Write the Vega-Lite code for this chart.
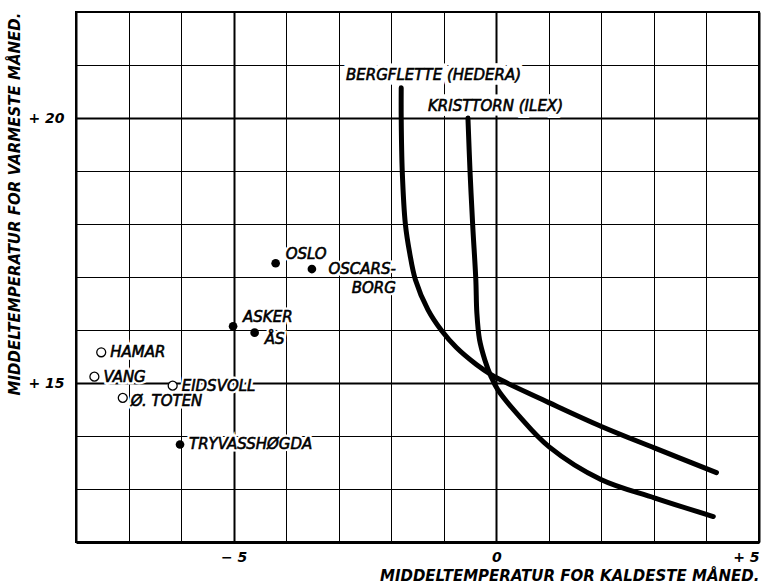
{
  "$schema": "https://vega.github.io/schema/vega-lite/v6.json",
  "width": 683,
  "height": 530,
  "autosize": {"type": "none"},
  "padding": {"left": 76, "top": 12, "right": 4, "bottom": 44},
  "background": "white",
  "config": {
    "view": {"stroke": "black", "strokeWidth": 2},
    "axis": {
      "labelFont": "DejaVu Sans", "labelFontStyle": "italic", "labelFontWeight": "bold", "labelFontSize": 14, "labelColor": "black",
      "titleFont": "DejaVu Sans", "titleFontStyle": "italic", "titleFontWeight": "bold", "titleFontSize": 15, "titleColor": "black",
      "gridColor": "black", "gridOpacity": 1, "domainColor": "black", "ticks": false
    },
    "text": {"font": "DejaVu Sans", "fontWeight": "normal", "fontStyle": "italic", "fontSize": 15}
  },
  "datasets": {
    "curves": [
      {"curve": "BERGFLETTE", "i": 1, "x": -1.81, "y": 20.57},
      {"curve": "BERGFLETTE", "i": 2, "x": -1.81, "y": 20.0},
      {"curve": "BERGFLETTE", "i": 3, "x": -1.79, "y": 18.99},
      {"curve": "BERGFLETTE", "i": 4, "x": -1.73, "y": 17.99},
      {"curve": "BERGFLETTE", "i": 5, "x": -1.65, "y": 17.46},
      {"curve": "BERGFLETTE", "i": 6, "x": -1.54, "y": 16.95},
      {"curve": "BERGFLETTE", "i": 7, "x": -1.3, "y": 16.38},
      {"curve": "BERGFLETTE", "i": 8, "x": -1.05, "y": 16.0},
      {"curve": "BERGFLETTE", "i": 9, "x": -0.76, "y": 15.67},
      {"curve": "BERGFLETTE", "i": 10, "x": -0.38, "y": 15.35},
      {"curve": "BERGFLETTE", "i": 11, "x": -0.1, "y": 15.16},
      {"curve": "BERGFLETTE", "i": 12, "x": 0.1, "y": 15.05},
      {"curve": "BERGFLETTE", "i": 13, "x": 1.0, "y": 14.63},
      {"curve": "BERGFLETTE", "i": 14, "x": 2.0, "y": 14.18},
      {"curve": "BERGFLETTE", "i": 15, "x": 3.02, "y": 13.77},
      {"curve": "BERGFLETTE", "i": 16, "x": 4.19, "y": 13.31},
      {"curve": "KRISTTORN", "i": 1, "x": -0.54, "y": 20.0},
      {"curve": "KRISTTORN", "i": 2, "x": -0.5, "y": 18.99},
      {"curve": "KRISTTORN", "i": 3, "x": -0.45, "y": 17.99},
      {"curve": "KRISTTORN", "i": 4, "x": -0.39, "y": 16.95},
      {"curve": "KRISTTORN", "i": 5, "x": -0.37, "y": 16.32},
      {"curve": "KRISTTORN", "i": 6, "x": -0.32, "y": 15.82},
      {"curve": "KRISTTORN", "i": 7, "x": -0.22, "y": 15.44},
      {"curve": "KRISTTORN", "i": 8, "x": -0.1, "y": 15.12},
      {"curve": "KRISTTORN", "i": 9, "x": 0.03, "y": 14.87},
      {"curve": "KRISTTORN", "i": 10, "x": 0.44, "y": 14.37},
      {"curve": "KRISTTORN", "i": 11, "x": 1.0, "y": 13.8},
      {"curve": "KRISTTORN", "i": 12, "x": 1.99, "y": 13.18},
      {"curve": "KRISTTORN", "i": 13, "x": 3.02, "y": 12.83},
      {"curve": "KRISTTORN", "i": 14, "x": 4.13, "y": 12.48}
    ],
    "curveLabels": [
      {"label": "BERGFLETTE (HEDERA)", "x": -2.86, "y": 20.82},
      {"label": "KRISTTORN (ILEX)", "x": -1.3, "y": 20.22}
    ],
    "stations": [
      {"name": "OSLO", "label": "OSLO", "x": -4.2, "y": 17.26, "kind": "filled"},
      {"name": "OSCARSBORG", "label": "OSCARS-\nBORG", "x": -3.51, "y": 17.15, "kind": "filled"},
      {"name": "ASKER", "label": "ASKER", "x": -5.01, "y": 16.07, "kind": "filled"},
      {"name": "ÅS", "label": "ÅS", "x": -4.6, "y": 15.95, "kind": "filled"},
      {"name": "HAMAR", "label": "HAMAR", "x": -7.52, "y": 15.58, "kind": "open"},
      {"name": "VANG", "label": "VANG", "x": -7.65, "y": 15.12, "kind": "open"},
      {"name": "EIDSVOLL", "label": "EIDSVOLL", "x": -6.16, "y": 14.95, "kind": "open"},
      {"name": "Ø. TOTEN", "label": "Ø. TOTEN", "x": -7.11, "y": 14.72, "kind": "open"},
      {"name": "TRYVASSHØGDA", "label": "TRYVASSHØGDA", "x": -6.02, "y": 13.84, "kind": "filled"}
    ]
  },
  "encoding": {
    "x": {
      "field": "x", "type": "quantitative",
      "scale": {"domain": [-8, 5], "nice": false, "zero": false},
      "axis": {
        "values": [-8, -7, -6, -5, -4, -3, -2, -1, 0, 1, 2, 3, 4, 5],
        "grid": true,
        "gridWidth": {"condition": {"test": "datum.value % 5 === 0", "value": 2}, "value": 1},
        "labelExpr": "datum.value === -5 ? '− 5' : datum.value === 0 ? '0' : datum.value === 5 ? '+ 5' : ''",
        "labelPadding": 8, "labelFlush": true, "labelOverlap": false, "domainWidth": 3,
        "title": "MIDDELTEMPERATUR FOR KALDESTE MÅNED.", "titleAnchor": "end", "titlePadding": 4
      }
    },
    "y": {
      "field": "y", "type": "quantitative",
      "scale": {"domain": [12, 22], "nice": false, "zero": false},
      "axis": {
        "values": [12, 13, 14, 15, 16, 17, 18, 19, 20, 21, 22],
        "grid": true,
        "gridWidth": {"condition": {"test": "datum.value === 15 || datum.value === 20", "value": 2}, "value": 1},
        "labelExpr": "datum.value === 20 ? '+ 20' : datum.value === 15 ? '+ 15' : ''",
        "labelPadding": 12, "labelOverlap": false, "domainWidth": 2,
        "title": "MIDDELTEMPERATUR FOR VARMESTE MÅNED.", "titleAnchor": "end", "titlePadding": 5
      }
    }
  },
  "layer": [
    {
      "data": {"name": "curveLabels"},
      "encoding": {"text": {"field": "label"}},
      "layer": [
        {"mark": {"type": "text", "align": "left", "baseline": "middle", "fill": "white", "stroke": "white", "strokeWidth": 9}},
        {"mark": {"type": "text", "align": "left", "baseline": "middle", "fill": "black", "stroke": "black", "strokeWidth": 0.6}}
      ]
    },
    {
      "data": {"name": "curves"},
      "mark": {"type": "line", "color": "black", "strokeWidth": 5, "interpolate": "catmull-rom", "strokeCap": "round", "strokeJoin": "round"},
      "encoding": {"detail": {"field": "curve"}, "order": {"field": "i", "type": "quantitative"}}
    },
    {
      "data": {"name": "stations"},
      "transform": [{"filter": "indexof(['HAMAR','VANG','EIDSVOLL','TRYVASSHØGDA'], datum.name) >= 0"}],
      "encoding": {"text": {"field": "label"}},
      "layer": [
        {"mark": {"type": "text", "align": "left", "baseline": "middle", "dx": 9, "fill": "white", "stroke": "white", "strokeWidth": 5}},
        {"mark": {"type": "text", "align": "left", "baseline": "middle", "dx": 9, "fill": "black", "stroke": "black", "strokeWidth": 0.6}}
      ]
    },
    {
      "data": {"name": "stations"},
      "transform": [{"filter": "datum.name === 'Ø. TOTEN'"}],
      "encoding": {"text": {"field": "label"}},
      "layer": [
        {"mark": {"type": "text", "align": "left", "baseline": "middle", "dx": 8, "dy": 3, "fill": "white", "stroke": "white", "strokeWidth": 5}},
        {"mark": {"type": "text", "align": "left", "baseline": "middle", "dx": 8, "dy": 3, "fill": "black", "stroke": "black", "strokeWidth": 0.6}}
      ]
    },
    {
      "data": {"name": "stations"},
      "transform": [{"filter": "datum.name === 'OSLO' || datum.name === 'ASKER'"}],
      "encoding": {"text": {"field": "label"}},
      "layer": [
        {"mark": {"type": "text", "align": "left", "baseline": "middle", "dx": 10, "dy": -9, "fill": "white", "stroke": "white", "strokeWidth": 5}},
        {"mark": {"type": "text", "align": "left", "baseline": "middle", "dx": 10, "dy": -9, "fill": "black", "stroke": "black", "strokeWidth": 0.6}}
      ]
    },
    {
      "data": {"name": "stations"},
      "transform": [{"filter": "datum.name === 'ÅS'"}],
      "encoding": {"text": {"field": "label"}},
      "layer": [
        {"mark": {"type": "text", "align": "left", "baseline": "middle", "dx": 10, "dy": 6, "fill": "white", "stroke": "white", "strokeWidth": 5}},
        {"mark": {"type": "text", "align": "left", "baseline": "middle", "dx": 10, "dy": 6, "fill": "black", "stroke": "black", "strokeWidth": 0.6}}
      ]
    },
    {
      "data": {"name": "stations"},
      "transform": [{"filter": "datum.name === 'OSCARSBORG'"}],
      "encoding": {"text": {"field": "label"}},
      "layer": [
        {"mark": {"type": "text", "align": "right", "baseline": "alphabetic", "lineBreak": "\n", "lineHeight": 19, "dx": 84, "dy": 5, "fill": "white", "stroke": "white", "strokeWidth": 5}},
        {"mark": {"type": "text", "align": "right", "baseline": "alphabetic", "lineBreak": "\n", "lineHeight": 19, "dx": 84, "dy": 5, "fill": "black", "stroke": "black", "strokeWidth": 0.6}}
      ]
    },
    {
      "data": {"name": "stations"},
      "transform": [{"filter": "datum.kind === 'filled'"}],
      "mark": {"type": "circle", "color": "black", "size": 75, "opacity": 1}
    },
    {
      "data": {"name": "stations"},
      "transform": [{"filter": "datum.kind === 'open'"}],
      "mark": {"type": "circle", "filled": true, "fill": "white", "stroke": "black", "strokeWidth": 1.3, "size": 80, "opacity": 1}
    }
  ]
}
